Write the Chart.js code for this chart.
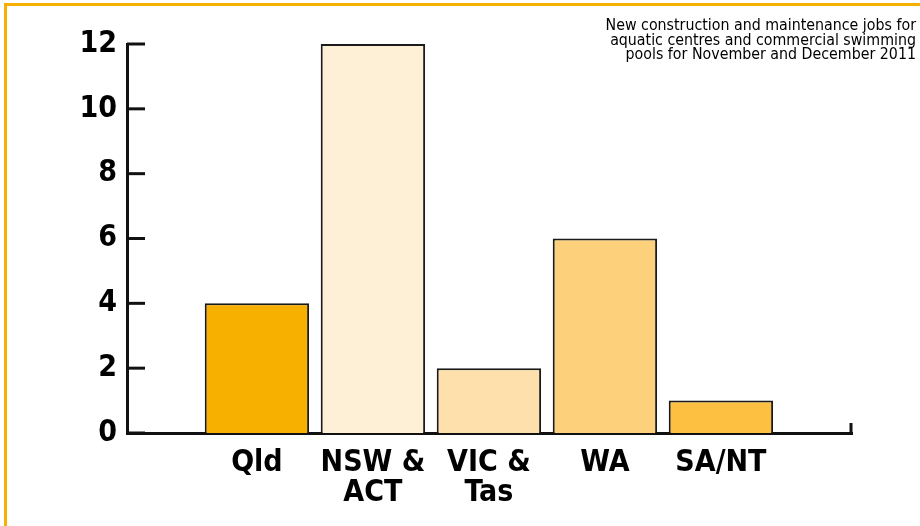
<!DOCTYPE html>
<html>
<head>
<meta charset="utf-8">
<script src="https://cdn.jsdelivr.net/npm/chart.js@4"></script>
<style>
  html, body { margin: 0; padding: 0; background: #fff; overflow: hidden; }
  #wrap { position: relative; width: 920px; height: 526px; }
  #frame {
    position: absolute; left: 4px; top: 3px; width: 1000px; height: 1000px;
    border: 3px solid #f8b000; box-sizing: border-box;
  }
  #title {
    position: absolute; right: 4px; top: 18px; text-align: right;
    font-family: "Liberation Sans Narrow", "DejaVu Sans Condensed", sans-serif;
    font-size: 15.8px; line-height: 14.6px; color: #000;
  }
  canvas { position: absolute; left: 0; top: 0; }
</style>
</head>
<body>
<div id="wrap">
  <div id="frame"></div>
  <canvas id="myChart" width="920" height="526"></canvas>
  <div id="title">New construction and maintenance jobs for<br>aquatic centres and commercial swimming<br>pools for November and December 2011</div>
</div>
<script>
var categories = ["Qld", ["NSW &", "ACT"], ["VIC &", "Tas"], "WA", "SA/NT"];
var jobs = [4, 12, 2, 6, 1];
var barColors = ["#f8b000", "#fef0d6", "#fde0ab", "#fdd07c", "#fdc040"];
var yTicks = [0, 2, 4, 6, 8, 10, 12];

const FONT = "'Liberation Sans Narrow', 'DejaVu Sans Condensed', sans-serif";
const INK = "#111";

// ticks inside the y axis plus the small end mark on the x axis
const axisMarks = {
  id: "axisMarks",
  afterDraw(chart) {
    const ctx = chart.ctx;
    const y = chart.scales.y;
    const area = chart.chartArea;
    ctx.save();
    ctx.strokeStyle = INK;
    ctx.lineWidth = 3;
    yTicks.forEach((v) => {
      const py = y.getPixelForValue(v);
      ctx.beginPath();
      ctx.moveTo(area.left, py);
      ctx.lineTo(area.left + 18, py);
      ctx.stroke();
    });
    ctx.beginPath();
    ctx.moveTo(area.right - 1, area.bottom);
    ctx.lineTo(area.right - 1, area.bottom - 10);
    ctx.stroke();
    ctx.restore();
  },
};

function initChart() {
  const ctx = document.getElementById("myChart").getContext("2d");
  new Chart(ctx, {
    type: "bar",
    data: {
      datasets: [
        {
          data: jobs.map((v, i) => ({ x: i, y: v })),
          backgroundColor: barColors,
          borderColor: "#1a1a1a",
          borderWidth: 2,
          borderSkipped: "bottom",
          categoryPercentage: 0.9,
          barPercentage: 1,
        },
      ],
    },
    options: {
      responsive: false,
      animation: false,
      layout: { padding: { top: 44, right: 68, left: 0, bottom: 0 } },
      plugins: { legend: { display: false }, tooltip: { enabled: false } },
      scales: {
        x: {
          type: "linear",
          offset: false,
          min: -1.12,
          max: 5.13,
          grid: { display: false, drawTicks: false, offset: false },
          border: { display: true, color: INK, width: 3 },
          afterBuildTicks: (scale) => {
            scale.ticks = categories.map((c, i) => ({ value: i }));
          },
          afterFit: (scale) => {
            scale.height = 93;
          },
          ticks: {
            autoSkip: false,
            maxRotation: 0,
            padding: 15,
            color: "#000",
            font: { family: FONT, size: 30, weight: "bold", lineHeight: 1.0 },
            callback: (value) => categories[value],
          },
        },
        y: {
          min: 0,
          max: 12,
          grid: { display: false, drawTicks: false },
          border: { display: true, color: INK, width: 3 },
          afterBuildTicks: (scale) => {
            scale.ticks = yTicks.map((v) => ({ value: v }));
          },
          afterFit: (scale) => {
            scale.width = 127;
          },
          ticks: {
            padding: 10,
            color: "#000",
            font: { family: FONT, size: 30, weight: "bold" },
          },
        },
      },
    },
    plugins: [axisMarks],
  });
}

initChart();
</script>
</body>
</html>
